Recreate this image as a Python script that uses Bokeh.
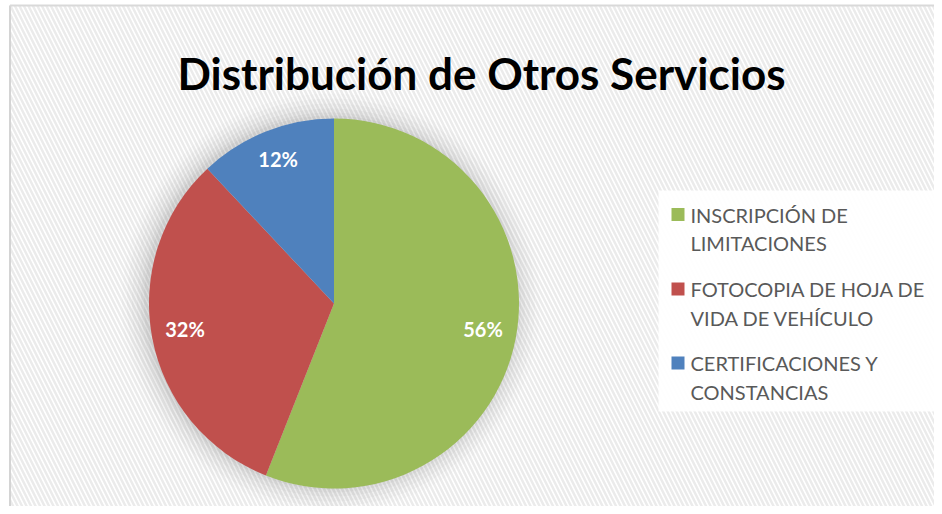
import numpy as np
from bokeh.plotting import figure
from bokeh.models import Range1d, BoxAnnotation
from bokeh.core.properties import value
from bokeh.embed import file_html
from bokeh.resources import INLINE

title = "Distribución de Otros Servicios"
categories = ["INSCRIPCIÓN DE\nLIMITACIONES",
              "FOTOCOPIA DE HOJA DE\nVIDA DE VEHÍCULO",
              "CERTIFICACIONES Y\nCONSTANCIAS"]
shares = [56, 32, 12]
colors = ["#9BBB59", "#C0504D", "#4F81BD"]

W, H = 934, 506
p = figure(width=W, height=H, x_range=Range1d(0, W), y_range=Range1d(0, H),
           output_backend="svg", toolbar_location=None, min_border=0,
           x_axis_location=None, y_axis_location=None, outline_line_color=None)
p.grid.visible = False
p.background_fill_color = "white"
p.border_fill_color = "white"

def Y(img_y):
    return H - img_y

# hatched chart-area background
p.add_layout(BoxAnnotation(left=9, top=Y(5), fill_color="white", fill_alpha=1.0, line_color=None,
                           hatch_pattern="\\", hatch_color="#ebebeb", hatch_scale=9,
                           hatch_weight=2.5, level="underlay"))
p.segment(x0=[9.5], y0=[0], x1=[9.5], y1=[Y(5)], line_color="#d4d4d4", line_width=2)
p.segment(x0=[9.5], y0=[Y(5)], x1=[W], y1=[Y(5)], line_color="#d9d9d9", line_width=2)

# pie geometry (screen px)
cx, cy, R = 333.5, Y(303), 185
vals = np.array(shares, dtype=float)
frac = vals / vals.sum()
cum = np.concatenate([[0], np.cumsum(frac)])
start = np.pi / 2 - cum[:-1] * 2 * np.pi
end = np.pi / 2 - cum[1:] * 2 * np.pi

# soft shadow
for k, a in [(24, 0.025), (19, 0.03), (14, 0.04), (9, 0.05), (5, 0.06), (2, 0.07)]:
    p.circle(x=[cx - 3], y=[cy + 1], radius=R + k, radius_units="screen",
             fill_color="#6f6f6f", fill_alpha=a, line_color=None)

p.wedge(x=cx, y=cy, radius=R, radius_units="screen", start_angle=start, end_angle=end,
        direction="clock", fill_color=colors, line_color=None)

mid = (start + end) / 2
d = 0.82 * R
lx = cx + d * np.cos(mid)
ly = cy + d * np.sin(mid) + 3
p.text(x=lx, y=ly, text=[f"{int(v)}%" for v in shares], text_color="white",
       text_font=value("Lato"), text_font_style="bold", text_font_size="20px",
       text_align="center", text_baseline="middle")

# title
p.text(x=[481], y=[Y(72)], text=[title], text_color="black", text_font=value("Lato"),
       text_font_style="bold", text_font_size="44px", text_align="center",
       text_baseline="alphabetic")

# legend
p.quad(left=[658], right=[938], bottom=[Y(411)], top=[Y(190)], fill_color="white",
       fill_alpha=0.95, line_color=None)
row_top = [Y(214), Y(288.5), Y(362.5)]
sq = 13
lx_text, sx = 690, 677.5
txs, tys, tts = [], [], []
for i, lab in enumerate(categories):
    y0 = row_top[i]
    p.rect(x=[sx], y=[y0], width=sq, height=sq, fill_color=colors[i], line_color=None)
    for j, line in enumerate(lab.split("\n")):
        txs.append(lx_text)
        tys.append(y0 - j * 28.5)
        tts.append(line)
p.text(x=txs, y=tys, text=tts, text_color="#595959", text_font=value("Lato"),
       text_font_size="20px", text_align="left", text_baseline="middle")

open("out.html", "w").write(file_html(p, INLINE))
